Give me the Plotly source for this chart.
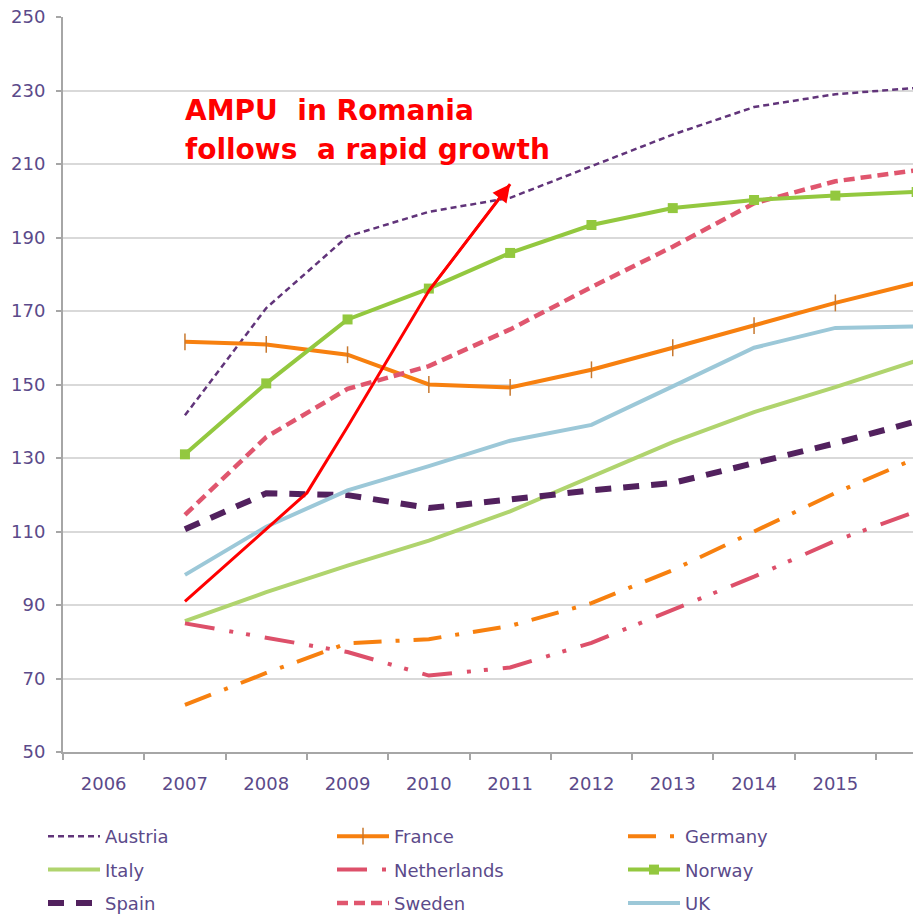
import plotly.graph_objects as go

# ---- data -------------------------------------------------------------
years = [2007, 2008, 2009, 2010, 2011, 2012, 2013, 2014, 2015, 2016]
axis_years = [2006, 2007, 2008, 2009, 2010, 2011, 2012, 2013, 2014, 2015]
y_ticks = [50, 70, 90, 110, 130, 150, 170, 190, 210, 230, 250]

austria = [141.6, 170.8, 190.3, 197.0, 200.8, 209.5, 218.0, 225.5, 229.0, 230.7]
france = [161.6, 160.9, 158.1, 150.0, 149.2, 154.0, 160.0, 166.0, 172.2, 177.7]
germany = [62.8, 71.5, 79.6, 80.7, 84.3, 90.5, 99.5, 110.0, 120.5, 130.0]
italy = [85.6, 93.5, 100.7, 107.5, 115.5, 125.0, 134.3, 142.5, 149.3, 156.5]
netherlands = [85.0, 81.0, 77.2, 70.8, 73.0, 79.7, 88.6, 97.7, 107.5, 115.5]
norway = [131.0, 150.3, 167.7, 176.1, 185.8, 193.4, 198.0, 200.2, 201.4, 202.4]
spain = [110.6, 120.4, 119.9, 116.4, 118.7, 121.2, 123.2, 128.5, 134.0, 140.0]
sweden = [114.5, 135.7, 148.8, 155.0, 165.0, 176.5, 187.5, 199.3, 205.3, 208.3]
uk = [98.2, 111.3, 121.2, 127.8, 134.7, 139.0, 149.5, 160.0, 165.4, 165.8]

romania_years = [2007, 2008, 2008.5, 2009, 2010, 2011]
romania = [91.0, 110.5, 120.5, 138.5, 175.5, 204.5]

note_line1 = "AMPU\u00a0 in Romania"
note_line2 = "follows\u00a0 a rapid growth"

# ---- styling ----------------------------------------------------------
FONT = "DejaVu Sans"
TEXT_COLOR = "#5b4a8a"
GRID = "#d9d9d9"
AXIS = "#a6a6a6"

series = [
    # name, values, color, width, dash, marker, legend column
    ("Austria", austria, "#61347a", 2.5, "6px,4px", None, "legend"),
    ("Italy", italy, "#b0d46e", 4, "solid", None, "legend"),
    ("Spain", spain, "#52215e", 6, "16px,12px", None, "legend"),
    ("France", france, "#f7800f", 4, "solid",
     dict(symbol="line-ns", size=12, line=dict(width=1.5, color="#c8782e")), "legend2"),
    ("Netherlands", netherlands, "#dd506a", 4,
     "30px,15px,4px,13px,4px,15px", None, "legend2"),
    ("Sweden", sweden, "#e0566e", 4.5, "11px,6px", None, "legend2"),
    ("Germany", germany, "#f7800f", 4, "28px,14px,4px,14px", None, "legend3"),
    ("Norway", norway, "#93c83f", 4,
     "solid", dict(symbol="square", size=10, color="#93c83f"), "legend3"),
    ("UK", uk, "#9cc8d8", 4, "solid", None, "legend3"),
]

fig = go.Figure()

for name, vals, color, width, dash, marker, leg in series:
    mode = "lines+markers" if marker else "lines"
    fig.add_trace(go.Scatter(
        x=years, y=vals, name=name, mode=mode,
        line=dict(color=color, width=width, dash=dash),
        marker=marker if marker else None,
        legend=leg, legendgroup=name,
        hoverinfo="skip",
    ))

# Romania growth curve, with an arrow head on its last segment
fig.add_trace(go.Scatter(
    x=romania_years, y=romania, mode="lines",
    line=dict(color="#ff0000", width=3),
    showlegend=False, hoverinfo="skip",
))
fig.add_annotation(
    x=romania_years[-1], y=romania[-1],
    ax=romania_years[-2], ay=romania[-2],
    xref="x", yref="y", axref="x", ayref="y",
    text="", showarrow=True, arrowhead=2, arrowsize=1.4,
    arrowwidth=2.5, arrowcolor="#ff0000", standoff=0,
)

for txt, ypos in ((note_line1, 224.6), (note_line2, 214.0)):
    fig.add_annotation(
        x=2006.98, y=ypos, xref="x", yref="y",
        text=txt, showarrow=False, xanchor="left", yanchor="middle",
        font=dict(family=FONT, size=28, color="#ff0000", weight="bold"),
    )

minor_ticks = [y - 0.5 for y in axis_years] + [axis_years[-1] + 0.5]

fig.update_xaxes(
    range=[2005.5, 2015.955],
    tickvals=axis_years, ticktext=[str(y) for y in axis_years],
    ticks="", ticklabelstandoff=14,
    tickfont=dict(family=FONT, size=18, color=TEXT_COLOR),
    showgrid=False, zeroline=False,
    showline=True, linecolor=AXIS, linewidth=2,
    minor=dict(tickvals=minor_ticks, ticks="outside", ticklen=6,
               tickwidth=2, tickcolor=AXIS, showgrid=False),
)
fig.update_yaxes(
    range=[50, 250], tickvals=y_ticks,
    ticks="outside", ticklen=5, tickwidth=2, tickcolor=AXIS,
    ticklabelstandoff=7,
    tickfont=dict(family=FONT, size=18, color=TEXT_COLOR),
    showgrid=True, gridcolor=GRID, gridwidth=2, zeroline=False,
    showline=True, linecolor=AXIS, linewidth=2,
)

legend_common = dict(
    orientation="v", xref="container", yref="container",
    yanchor="top", xanchor="left",
    font=dict(family=FONT, size=18, color=TEXT_COLOR),
    itemwidth=52, tracegroupgap=7, bgcolor="rgba(0,0,0,0)",
    borderwidth=0, itemclick=False,
)
legend_top = 1 - 818 / 920
fig.update_layout(
    width=913, height=920,
    margin=dict(l=63, r=0, t=17, b=168, autoexpand=False),
    paper_bgcolor="white", plot_bgcolor="white",
    font=dict(family=FONT, color=TEXT_COLOR),
    legend=dict(x=43 / 913, y=legend_top, **legend_common),
    legend2=dict(x=332 / 913, y=legend_top, **legend_common),
    legend3=dict(x=623 / 913, y=legend_top, **legend_common),
)

fig.write_html("out.html")
